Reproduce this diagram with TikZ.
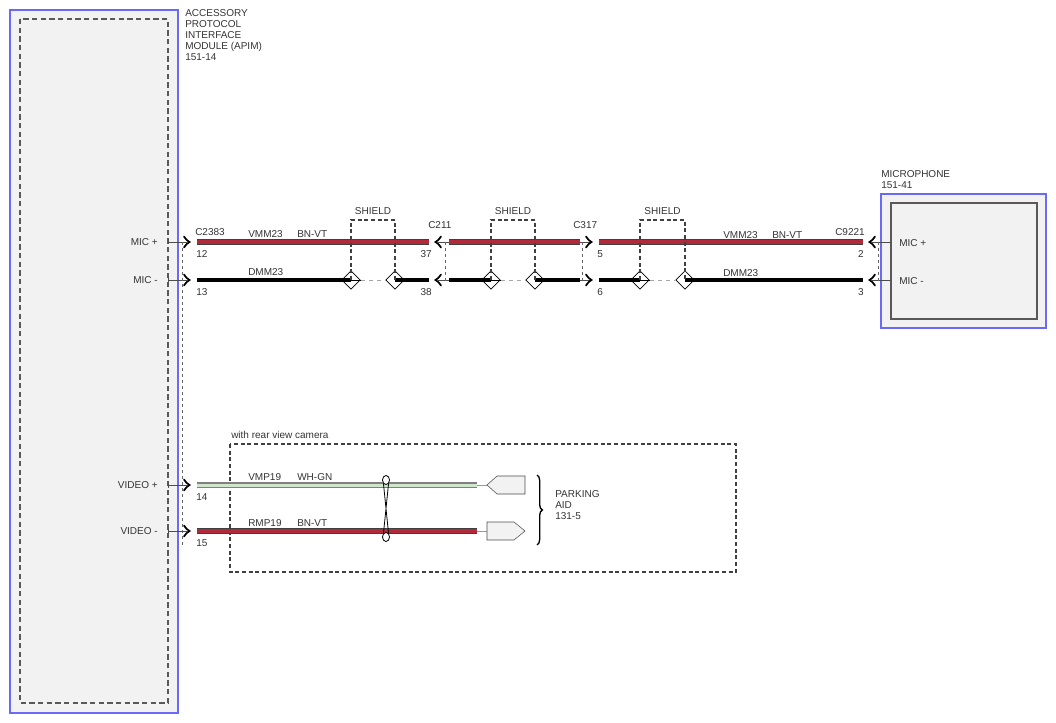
\documentclass[tikz,border=0pt]{standalone}
\usepackage{fontspec}
\setmainfont{Liberation Sans}
\usetikzlibrary{positioning, fit, shapes.geometric, decorations.pathreplacing, backgrounds}

\definecolor{modblue}{RGB}{105,105,250}
\definecolor{modfill}{RGB}{242,242,242}
\definecolor{txtgray}{RGB}{51,51,51}
\definecolor{wirered}{RGB}{178,42,58}
\definecolor{wiregreen}{RGB}{208,230,202}

\tikzset{
  lbl/.style={font=\fontsize{7.5}{8.25}\selectfont, text=txtgray, inner sep=0pt, align=left},
  modbox/.style={draw=modblue, fill=modfill, line width=0.9pt, inner sep=0pt},
  inbox/.style={draw=black!65, line width=0.8pt, inner sep=0pt},
  redwire/.style={line width=4.4pt, draw=black!75, postaction={draw=wirered, line width=2.8pt}},
  greenwire/.style={line width=3.8pt, draw=black!50, postaction={draw=wiregreen, line width=2.2pt, transform canvas={yshift=-0.4pt}}},
  blkwire/.style={line width=2.3pt, draw=black},
  tap/.style={thin, draw=black!70},
  shieldline/.style={dashed, line width=0.8pt, draw=black!75, dash pattern=on 3pt off 2pt},
  drain/.style={dashed, thin, draw=black!35, dash pattern=on 3pt off 3pt},
  conline/.style={line width=0.7pt, draw=black!60, dash pattern=on 2.5pt off 2pt},
  shieldknot/.style={diamond, draw=black, line width=0.6pt, minimum width=14pt, minimum height=14pt, inner sep=0pt},
  pinr/.pic={\draw[line width=1.3pt, line cap=round] (-4,-5.5) .. controls (-1,-1.5) .. (1.5,0) .. controls (-1,1.5) .. (-4,5.5);},
  pinl/.pic={\draw[line width=1.3pt, line cap=round] (4,-5.5) .. controls (1,-1.5) .. (-1.5,0) .. controls (1,1.5) .. (4,5.5);},
}

\begin{document}
\begin{tikzpicture}[x=0.75pt, y=-0.75pt]
  \useasboundingbox (0,0) rectangle (1056,723);
  %tikz  APIM and microphone
    \coordinate (apimNW) at (10,10);
    \coordinate (apimSE) at (178,713);
    \node[modbox, fit=(apimNW)(apimSE)] (apim) {};
    \draw[inbox, dash pattern=on 4pt off 2.5pt] (20,19) rectangle (168,703);
    \node[lbl, anchor=north west] (apimtxt) at (185,9)
      {ACCESSORY\\PROTOCOL\\INTERFACE\\MODULE (APIM)\\151-14};

    \coordinate (micNW) at (881,194);
    \coordinate (micSE) at (1046,328);
    \node[modbox, fit=(micNW)(micSE)] (mic) {};
    \draw[inbox, fill=modfill] (891,203) rectangle (1037,319);
    \node[lbl, anchor=south west] (mictxt) at (881,189) {MICROPHONE\\151-41};

    % pins, C2383 and C9221
    \foreach \y/\n/\t in {242/12/MIC +, 280/13/MIC -, 485/14/VIDEO +, 531/15/VIDEO -}{
      \node[lbl, anchor=east] (sig\n) at (158,\y) {\t};
      \coordinate (a\n) at (197,\y);
      \draw[tap] (168,\y-2.5) -- (168,\y+2.5);
      \draw[tap] (168,\y) -- (187,\y);
      \pic at (188,\y) {pinr};
      \node[lbl, anchor=west] (na\n) at (196,\y+12) {\n};
    }
    \foreach \y/\n/\m/\t in {242/37/5/MIC +, 280/38/6/MIC -}{
      \coordinate (b\n) at (429,\y);
      \coordinate (c\n) at (449,\y);
      \coordinate (d\m) at (580,\y);
      \coordinate (e\m) at (599,\y);
      \pic at (437,\y) {pinl};
      \draw[tap] (437,\y) -- (c\n);
      \draw[tap] (d\m) -- (590,\y);
      \pic at (590,\y) {pinr};
      \node[lbl, anchor=east] (nb\n) at (432,\y+12) {\n};
      \node[lbl, anchor=west] (ne\m) at (597,\y+12) {\m};
    }
    \foreach \y/\n/\t in {242/2/MIC +, 280/3/MIC -}{
      \coordinate (f\n) at (863,\y);
      \pic at (871,\y) {pinl};
      \draw[tap] (871,\y) -- (891,\y);
      \node[lbl, anchor=east] (nf\n) at (864,\y+12) {\n};
      \node[lbl, anchor=west] (mic\n) at (899,\y+1) {\t};
    }
    \draw[conline] (182,242) -- (182,545);
    \draw[conline] (445,242) -- (445,282);
    \draw[conline] (582,242) -- (582,282);
    \draw[conline] (878,242) -- (878,282);

    \node[lbl, anchor=west] (c2383) at (195,232) {C2383};
    \node[lbl, anchor=west] (c211) at (428,225) {C211};
    \node[lbl, anchor=west] (c317) at (573,225) {C317};
    \node[lbl, anchor=west] (c9221) at (835,232) {C9221};

    % shields
    \foreach \a/\b/\n in {351/395/1, 491/535/2, 640/685/3}{
      \node[shieldknot] (s\n a) at (\a,280) {};
      \node[shieldknot] (s\n b) at (\b,280) {};
      \draw[drain] (s\n a.east) -- (s\n b.west);
      \draw[shieldline] (s\n a.center) -- (\a,220) -- (\b,220) -- (s\n b.center);
      \node[lbl] (sh\n) at ({(\a+\b)/2},211) {SHIELD};
    }

    % wires
    \begin{scope}[on background layer]
    \draw[redwire] (a12) -- (b37);
    \draw[redwire] (c37) -- (d5);
    \draw[redwire] (e5) -- (f2);
    \draw[blkwire] (a13) -- (s1a.center);
    \draw[blkwire] (s1b.center) -- (b38);
    \draw[blkwire] (c38) -- (s2a.center);
    \draw[blkwire] (s2b.center) -- (d6);
    \draw[blkwire] (e6) -- (s3a.center);
    \draw[blkwire] (s3b.center) -- (f3);
    \end{scope}
    \draw[thin, black] (s1a.center) -- (s1a.east) (s2a.center) -- (s2a.east) (s3a.center) -- (s3a.east);

    \node[lbl, anchor=west] (w1) at (248,234) {VMM23};
    \node[lbl, anchor=west] (w1c) at (297,234) {BN-VT};
    \node[lbl, anchor=west] (w2) at (248,272) {DMM23};
    \node[lbl, anchor=west] (w3) at (723,235) {VMM23};
    \node[lbl, anchor=west] (w3c) at (772,235) {BN-VT};
    \node[lbl, anchor=west] (w4) at (723,273) {DMM23};

    % rear view camera
    \node[lbl, anchor=west] (cam) at (231,435) {with rear view camera};
    \draw[shieldline] (230,444) rectangle (736,572);
    \coordinate (g14) at (477,485);
    \coordinate (g15) at (477,531);
    \coordinate (pa14) at (487,485);
    \coordinate (pa15) at (487,531);
    \draw[greenwire] (a14) -- (g14);
    \draw[redwire] (a15) -- (g15);
    \draw[thin, black!40] (g14) -- (pa14) (g15) -- (pa15);
    \draw[thin, black!70, fill=modfill] (pa14) -- (497,476) -- (525,476) -- (525,494) -- (497,494) -- cycle;
    \draw[thin, black!70, fill=modfill] (pa15) -- (487,522) -- (514,522) -- (525,531) -- (514,540) -- (487,540) -- cycle;
    \node[lbl, anchor=west] (w5) at (248,477) {VMP19};
    \node[lbl, anchor=west] (w5c) at (297,477) {WH-GN};
    \node[lbl, anchor=west] (w6) at (248,523) {RMP19};
    \node[lbl, anchor=west] (w6c) at (297,523) {BN-VT};

    \draw[line width=0.6pt] (383.5,484) -- (388.5,533) (388.5,484) -- (383.5,533);
    \draw[line width=0.6pt, fill=white] (386,480) ellipse (3.5 and 4.5);
    \draw[line width=0.6pt, fill=white] (386,537) ellipse (3.5 and 4.5);

    \draw[line width=1pt, decorate, decoration={brace, amplitude=4pt}] (537,475) -- (537,545);
    \node[lbl, anchor=west] (park) at (555,505) {PARKING\\AID\\131-5};
  \end{tikzpicture}
\end{document}
